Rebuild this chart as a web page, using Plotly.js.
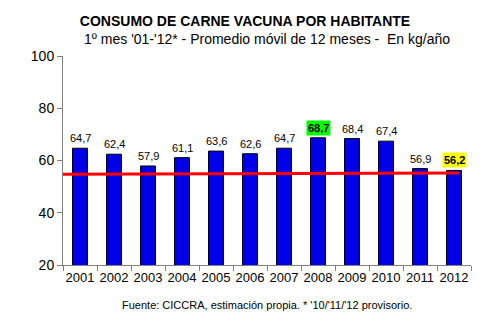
<!DOCTYPE html>
<html><head><meta charset="utf-8">
<script src="https://cdn.plot.ly/plotly-3.0.1.min.js"></script>
<style>body{margin:0;background:#fff}#c{width:490px;height:333px}</style>
</head><body><div id="c"></div>
<script>
const years = ['2001','2002','2003','2004','2005','2006','2007','2008','2009','2010','2011','2012'];
const consumo = [64.7,62.4,57.9,61.1,63.6,62.6,64.7,68.7,68.4,67.4,56.9,56.2];
const labels = ['64,7','62,4','57,9','61,1','63,6','62,6','64,7','68,7','68,4','67,4','56,9','56,2'];
const lineX = [-0.5, 11.15];
const lineY = [54.7, 55.2];
const highlight = {'2008':'#00ff00','2012':'#ffff00'};

const idx = years.map((y,i)=>i);
const bounds = years.map((y,i)=>i-0.5).concat([years.length-0.5]);
const F = 'Arial, "Liberation Sans", sans-serif';
const ann = years.map((y,i)=>{
  const hl = highlight[y];
  return {x:idx[i], y:consumo[i], xref:'x', yref:'y', yanchor:'bottom', yshift:2,
    text: hl ? '<b>'+labels[i]+'</b>' : labels[i], showarrow:false,
    font:{family:F,size:11,color:'#000'}, bgcolor: hl || 'rgba(0,0,0,0)', borderpad:1};
});
ann.push({xref:'paper',yref:'paper',x:0.5,y:-0.19,xanchor:'center',yanchor:'middle',
  text:'Fuente: CICCRA, estimación propia. * \'10/\'11/\'12 provisorio.',showarrow:false,
  font:{family:F,size:11,color:'#000'}});
ann.push({xref:'paper',yref:'paper',x:0.5,y:1.081,xanchor:'center',yanchor:'middle',
  text:'1º mes \'01-\'12* - Promedio móvil de 12 meses -  En kg/año',showarrow:false,
  font:{family:F,size:14,color:'#000'}});

const data = [
  {type:'bar', x:idx, y:consumo, width:0.44,
   marker:{color:'#0000e8', line:{color:'#000', width:1}}, hoverinfo:'none'},
  {type:'scatter', mode:'lines', x:lineX, y:lineY,
   line:{color:'#ff0000', width:3}, hoverinfo:'none'}
];
const layout = {
  width:490, height:333, showlegend:false,
  paper_bgcolor:'#fff', plot_bgcolor:'#fff',
  margin:{l:63, r:19, t:56, b:68},
  title:{text:'<b>CONSUMO DE CARNE VACUNA POR HABITANTE</b>', x:0.5, xanchor:'center', y:0.937, yanchor:'middle',
    font:{family:F, size:14, color:'#000'}},
  xaxis:{type:'linear', range:[-0.5,11.5], tickmode:'array', tickvals:idx, ticktext:years, ticks:'',
    showline:true, linecolor:'#808080', linewidth:1,
    minor:{tickmode:'array', tickvals:bounds, ticks:'outside', ticklen:5, tickcolor:'#808080', showgrid:false},
    tickfont:{family:F,size:13,color:'#000'}, showgrid:false, zeroline:false, fixedrange:true},
  yaxis:{range:[20,100], tickvals:[20,40,60,80,100], showline:true, linecolor:'#808080', linewidth:1,
    ticks:'outside', ticklen:5, tickcolor:'#808080', tickfont:{family:F,size:14,color:'#000'},
    showgrid:false, zeroline:false, fixedrange:true},
  annotations:ann
};
Plotly.newPlot('c', data, layout, {displayModeBar:false, staticPlot:true});
</script></body></html>
